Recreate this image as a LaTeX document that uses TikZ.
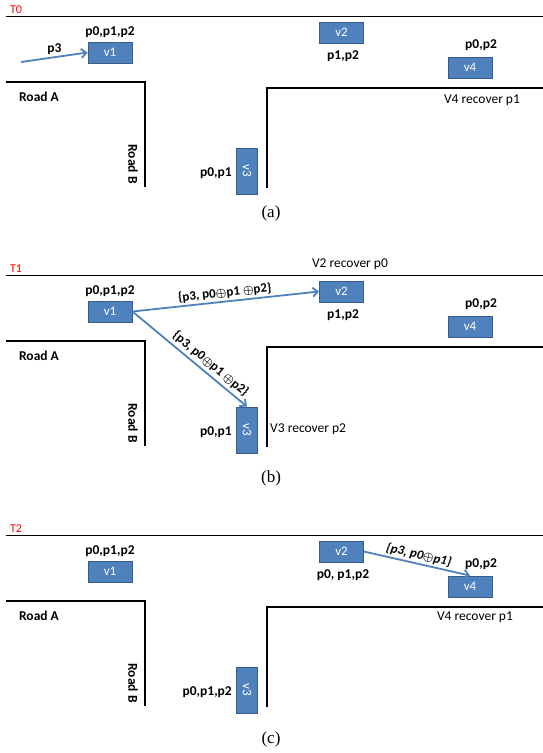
\documentclass[tikz,border=0pt]{standalone}
\usepackage{fontspec}
\setmainfont{Carlito}
\newfontfamily\capfont{Liberation Serif}
\usetikzlibrary{arrows.meta}
\definecolor{vFill}{HTML}{4F81BD}
\definecolor{vEdge}{HTML}{385D8A}
\definecolor{tRed}{HTML}{FF0000}

\begin{document}
\begin{tikzpicture}[x=1pt,y=-1pt,
    veh/.style={draw=vEdge,line width=0.8pt,fill=vFill,text=white,inner sep=0pt,
      minimum width=44pt,minimum height=21pt,font=\fontsize{13}{13}\selectfont},
    vehv/.style={veh,minimum width=21pt,minimum height=46pt},
    lbl/.style={font=\bfseries\fontsize{13.5}{14}\selectfont,inner sep=0pt},
    note/.style={font=\fontsize{13.5}{14}\selectfont,inner sep=0pt},
    road/.style={line width=1.7pt},
    msg/.style={draw=vFill,line width=1.8pt,-{Straight Barb[length=5pt,width=9pt]}},
    msglbl/.style={font=\bfseries\boldmath\fontsize{13}{14}\selectfont,sloped,above,inner sep=2pt}]
  \useasboundingbox (0,0) rectangle (543,753);
  % the three snapshots share the same street layout
  \foreach \p/\dy/\t/\cy/\lb/\lc in {%
      a/0/T0/213/{p1,p2}/{p0,p1},
      b/259/T1/478/{p1,p2}/{p0,p1},
      c/519/T2/739/{p0, p1,p2}/{p0,p1,p2}}{%
    \draw[line width=1.4pt] (6,16.7+\dy) -- (543,16.7+\dy);
    \draw[road] (6,82+\dy) -- (145,82+\dy) -- (145,187+\dy);
    \draw[road] (267,188+\dy) -- (267,88+\dy) -- (543,88+\dy);
    \node[text=tRed,font=\fontsize{12}{12}\selectfont,inner sep=0pt] (\p-time) at (16,10+\dy) {\t};
    \node[lbl] (\p-roadA) at (39,97+\dy) {Road A};
    \node[lbl,rotate=-90] (\p-roadB) at (133,164+\dy) {Road B};
    \node[veh] (\p-v1) at (110,52.5+\dy) {v1};
    \node[veh] (\p-v2) at (341.5,32.5+\dy) {v2};
    \node[veh] (\p-v4) at (470,67.5+\dy) {v4};
    \node[vehv] (\p-v3) at (247,171+\dy) {\rotatebox{-90}{v3}};
    \node[lbl] (\p-l1) at (110,32+\dy) {p0,p1,p2};
    \node[lbl] (\p-l2) at (343,56+\dy) {\lb};
    \node[lbl] (\p-l4) at (481,45+\dy) {p0,p2};
    \node[lbl,anchor=east] (\p-l3) at (232,173+\dy) {\lc};
    \node[font=\capfont\fontsize{17}{17}\selectfont] (\p-cap) at (271,\cy) {(\p)};
  }
  \node[note] (a-rec4) at (482,100) {V4 recover p1};
  \node[note] (b-rec2) at (350,264) {V2 recover p0};
  \node[note,anchor=west] (b-rec3) at (270,429) {V3 recover p2};
  \node[note] (c-rec4) at (475,617) {V4 recover p1};
  % packets sent
  \coordinate (a-src) at (21,62);
  \draw[msg] (a-src) -- node[lbl,above=2pt] (a-p3) {p3} (a-v1.west);
  \draw[msg] (b-v1.east) -- node[msglbl] (b-m2) {\{p3, p0$\oplus$p1 $\oplus$p2\}} (b-v2.west);
  \draw[msg] (b-v1.east) -- node[msglbl,pos=0.63,inner sep=3pt] (b-m3) {\{p3, p0$\oplus$p1 $\oplus$p2\}} (b-v3.north);
  \draw[msg] (c-v2.east) -- node[msglbl,font=\bfseries\itshape\boldmath\fontsize{13}{14}\selectfont] (c-m4) {\{p3, p0$\oplus$p1\}} (c-v4.north);
\end{tikzpicture}
\end{document}
